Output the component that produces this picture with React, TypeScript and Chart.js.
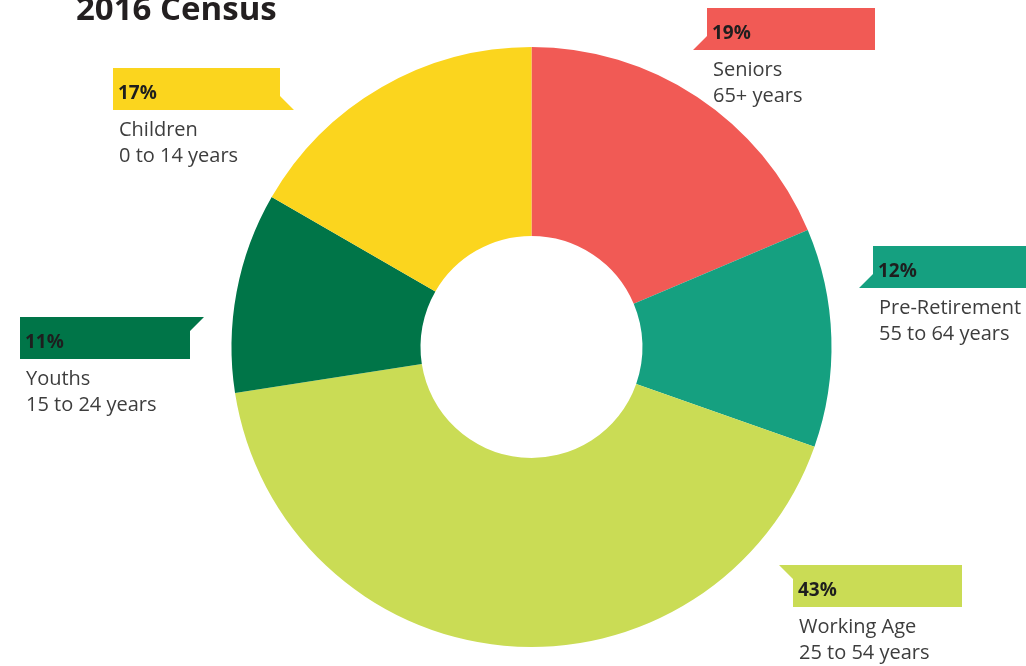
import React, { useEffect, useRef } from "react";
import { Chart, registerables } from "chart.js";

Chart.register(...registerables);

const categories = ["Seniors", "Pre-Retirement", "Working Age", "Youths", "Children"];
const ageRanges = ["65+ years", "55 to 64 years", "25 to 54 years", "15 to 24 years", "0 to 14 years"];
const values = [19, 12, 43, 11, 17];
const percentLabels = ["19%", "12%", "43%", "11%", "17%"];
const colors = ["#F15A55", "#15A080", "#CADC55", "#007548", "#FBD51E"];

type Flag = { left: number; right: number; top: number; notch: "bl" | "br" | "tl" | "tr" };
const flags: Flag[] = [
  { left: 707, right: 875, top: 8, notch: "bl" },
  { left: 873, right: 1030, top: 246, notch: "bl" },
  { left: 793, right: 962, top: 565, notch: "tl" },
  { left: 20, right: 190, top: 317, notch: "tr" },
  { left: 113, right: 280, top: 68, notch: "br" },
];

const FLAG_H = 42;
const NOTCH = 14;

function clipFor(f: Flag): { left: number; width: number; clip: string } {
  const w = f.right - f.left;
  const h = FLAG_H;
  if (f.notch === "bl") {
    const W = w + NOTCH;
    return {
      left: f.left - NOTCH,
      width: W,
      clip: `polygon(${NOTCH}px 0px, ${W}px 0px, ${W}px ${h}px, 0px ${h}px, ${NOTCH}px ${h - NOTCH}px)`,
    };
  }
  if (f.notch === "tl") {
    const W = w + NOTCH;
    return {
      left: f.left - NOTCH,
      width: W,
      clip: `polygon(0px 0px, ${W}px 0px, ${W}px ${h}px, ${NOTCH}px ${h}px, ${NOTCH}px ${NOTCH}px)`,
    };
  }
  if (f.notch === "br") {
    const W = w + NOTCH;
    return {
      left: f.left,
      width: W,
      clip: `polygon(0px 0px, ${w}px 0px, ${w}px ${h - NOTCH}px, ${W}px ${h}px, 0px ${h}px)`,
    };
  }
  const W = w + NOTCH;
  return {
    left: f.left,
    width: W,
    clip: `polygon(0px 0px, ${W}px 0px, ${w}px ${NOTCH}px, ${w}px ${h}px, 0px ${h}px)`,
  };
}

export default function App() {
  const ref = useRef<HTMLCanvasElement | null>(null);

  useEffect(() => {
    if (!ref.current) return;
    const chart = new Chart(ref.current, {
      type: "doughnut",
      data: {
        labels: categories,
        datasets: [
          {
            data: values,
            backgroundColor: colors,
            borderWidth: 0,
            hoverOffset: 0,
            offset: 0,
          },
        ],
      },
      options: {
        responsive: false,
        animation: false,
        cutout: "37%",
        rotation: 0,
        layout: { padding: { left: 231, right: 194, top: 47, bottom: 19 } },
        plugins: {
          legend: { display: false },
          tooltip: { enabled: false },
        },
        events: [],
      },
    });
    return () => chart.destroy();
  }, []);

  const labelFont = "'Open Sans', 'DejaVu Sans', sans-serif";

  return (
    <div
      style={{
        position: "fixed",
        left: 0,
        top: 0,
        width: 1026,
        height: 666,
        background: "#ffffff",
        overflow: "hidden",
        fontFamily: labelFont,
      }}
    >
      <canvas ref={ref} width={1026} height={666} style={{ position: "absolute", left: 0, top: 0 }} />
      <div
        style={{
          position: "absolute",
          left: 76,
          top: -9,
          fontSize: 33,
          lineHeight: "33px",
          fontWeight: 700,
          color: "#231f20",
          whiteSpace: "nowrap",
        }}
      >
        2016 Census
      </div>
      {flags.map((f, i) => {
        const c = clipFor(f);
        return (
          <React.Fragment key={i}>
            <div
              style={{
                position: "absolute",
                left: c.left,
                top: f.top,
                width: c.width,
                height: FLAG_H,
                background: colors[i],
                clipPath: c.clip,
              }}
            />
            <div
              style={{
                position: "absolute",
                left: f.left + 5,
                top: f.top + 15,
                fontSize: 19,
                lineHeight: "19px",
                fontWeight: 700,
                color: "#1e1e1e",
                whiteSpace: "nowrap",
              }}
            >
              {percentLabels[i]}
            </div>
            <div
              style={{
                position: "absolute",
                left: f.left + 6,
                top: f.top + FLAG_H + 6,
                fontSize: 20,
                lineHeight: "26px",
                color: "#3d3d3d",
                whiteSpace: "nowrap",
              }}
            >
              <div>{categories[i]}</div>
              <div>{ageRanges[i]}</div>
            </div>
          </React.Fragment>
        );
      })}
    </div>
  );
}
